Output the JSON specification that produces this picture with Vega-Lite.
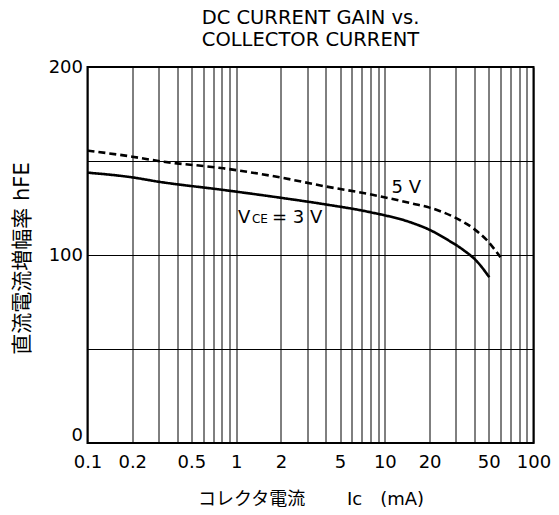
{
  "$schema": "https://vega.github.io/schema/vega-lite/v6.json",
  "width": 446,
  "height": 376,
  "autosize": {"type": "none"},
  "padding": {"left": 87.5, "top": 67, "right": 25.5, "bottom": 72},
  "background": "white",
  "title": {
    "text": ["DC CURRENT GAIN vs.", "COLLECTOR CURRENT"],
    "font": "DejaVu Sans",
    "fontSize": 19.5,
    "fontWeight": "normal",
    "lineHeight": 22,
    "anchor": "middle",
    "frame": "group",
    "baseline": "top",
    "offset": 8,
    "color": "black"
  },
  "config": {
    "view": {"stroke": "black", "strokeWidth": 2},
    "axis": {
      "domain": false,
      "ticks": false,
      "grid": true,
      "gridColor": "black",
      "gridOpacity": 1,
      "gridWidth": 1,
      "labelFont": "DejaVu Sans",
      "labelFontSize": 18,
      "labelColor": "black",
      "labelOverlap": false,
      "labelFlush": false,
      "titleColor": "black",
      "titleFont": "DejaVu Sans, Noto Sans CJK JP",
      "titleFontWeight": "normal"
    }
  },
  "datasets": {
    "curves": [
      {"x": 0.1, "y": 143.8, "series": "3 V"},
      {"x": 0.2, "y": 141.3, "series": "3 V"},
      {"x": 0.3, "y": 139.0, "series": "3 V"},
      {"x": 0.82, "y": 134.6, "series": "3 V"},
      {"x": 1.97, "y": 130.5, "series": "3 V"},
      {"x": 3.85, "y": 127.1, "series": "3 V"},
      {"x": 7.94, "y": 122.8, "series": "3 V"},
      {"x": 15.5, "y": 116.9, "series": "3 V"},
      {"x": 20.1, "y": 113.3, "series": "3 V"},
      {"x": 26.0, "y": 108.4, "series": "3 V"},
      {"x": 33.7, "y": 102.7, "series": "3 V"},
      {"x": 41.4, "y": 96.8, "series": "3 V"},
      {"x": 50.4, "y": 88.2, "series": "3 V"},
      {"x": 0.1, "y": 155.5, "series": "5 V"},
      {"x": 0.2, "y": 152.3, "series": "5 V"},
      {"x": 0.3, "y": 150.0, "series": "5 V"},
      {"x": 0.82, "y": 146.1, "series": "5 V"},
      {"x": 1.97, "y": 141.3, "series": "5 V"},
      {"x": 3.85, "y": 136.7, "series": "5 V"},
      {"x": 7.94, "y": 132.3, "series": "5 V"},
      {"x": 15.5, "y": 127.3, "series": "5 V"},
      {"x": 20.0, "y": 125.2, "series": "5 V"},
      {"x": 28.8, "y": 120.4, "series": "5 V"},
      {"x": 39.3, "y": 114.2, "series": "5 V"},
      {"x": 48.4, "y": 108.0, "series": "5 V"},
      {"x": 60.0, "y": 98.8, "series": "5 V"}
    ],
    "bigLabels": [
      {"x": 1.028, "y": 116.9, "t": "V"},
      {"x": 1.741, "y": 116.9, "t": "= 3 V"},
      {"x": 11.1, "y": 132.8, "t": "5 V"}
    ],
    "subLabels": [
      {"x": 1.277, "y": 116.9, "t": "CE"}
    ]
  },
  "encoding": {
    "x": {
      "field": "x",
      "type": "quantitative",
      "scale": {"type": "log", "domain": [0.1, 100], "nice": false},
      "axis": {
        "values": [0.1, 0.2, 0.3, 0.4, 0.5, 0.6, 0.7, 0.8, 0.9, 1, 2, 3, 4, 5, 6, 7, 8, 9, 10, 20, 30, 40, 50, 60, 70, 80, 90, 100],
        "labelExpr": "indexof([0.1, 0.2, 0.5, 1, 2, 5, 10, 20, 50, 100], datum.value) >= 0 ? format(datum.value, '~g') : ''",
        "labelPadding": 10,
        "title": "コレクタ電流　　\u00a0Ic　(mA)",
        "titleFontSize": 18,
        "titleY": 56,
        "titleBaseline": "middle"
      }
    },
    "y": {
      "field": "y",
      "type": "quantitative",
      "scale": {"domain": [0, 200], "nice": false},
      "axis": {
        "values": [0, 50, 100, 150, 200],
        "labelExpr": "datum.value % 100 == 0 ? datum.label : ''",
        "labelPadding": 5,
        "labelOffset": {"condition": {"test": "datum.value == 0", "value": -8}, "value": 0},
        "title": "直流電流増幅率\u00a0hFE",
        "titleFontSize": 21,
        "titleX": -65,
        "titleY": 191,
        "titleAlign": "center",
        "titleBaseline": "middle"
      }
    }
  },
  "layer": [
    {
      "data": {"name": "curves"},
      "mark": {"type": "line", "interpolate": "monotone", "color": "black", "strokeWidth": 2.6},
      "encoding": {
        "detail": {"field": "series"},
        "strokeDash": {
          "field": "series",
          "type": "nominal",
          "scale": {"domain": ["3 V", "5 V"], "range": [[1, 0], [7, 4]]},
          "legend": null
        }
      }
    },
    {
      "data": {"name": "bigLabels"},
      "mark": {"type": "text", "align": "left", "baseline": "alphabetic", "font": "DejaVu Sans", "fontSize": 18, "color": "black"},
      "encoding": {"text": {"field": "t"}}
    },
    {
      "data": {"name": "subLabels"},
      "mark": {"type": "text", "align": "left", "baseline": "alphabetic", "font": "DejaVu Sans", "fontSize": 12, "color": "black"},
      "encoding": {"text": {"field": "t"}}
    }
  ]
}
